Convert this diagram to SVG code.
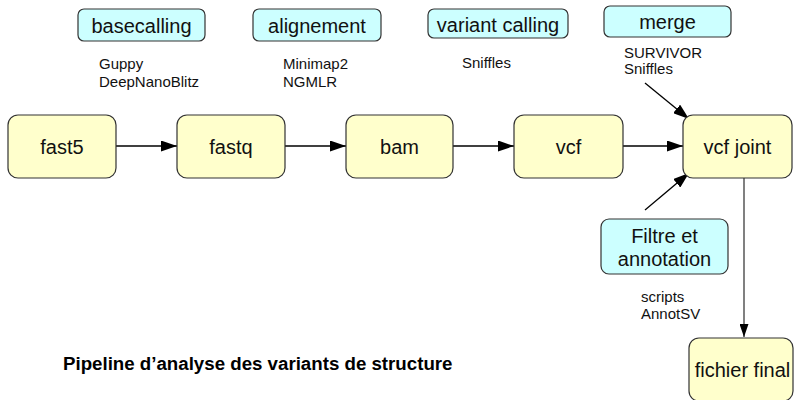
<svg xmlns="http://www.w3.org/2000/svg" width="794" height="400" viewBox="0 0 794 400">
<defs>
<style>
.node{fill:#ffffcc;stroke:#333;stroke-width:1.2}
.tool{fill:#ccffff;stroke:#333;stroke-width:1.2}
.lbl{font-family:"Liberation Sans",Arial,sans-serif;font-size:20px;fill:#111;text-anchor:middle}
.sm{font-family:"Liberation Sans",Arial,sans-serif;font-size:15px;fill:#111}
.title{font-family:"Liberation Sans",Arial,sans-serif;font-size:18.7px;font-weight:bold;fill:#000}
.edge{stroke:#000;stroke-width:1.3;fill:none}
</style>
<marker id="ah" markerWidth="16" markerHeight="11" refX="16" refY="5.5" orient="auto" markerUnits="userSpaceOnUse">
<path d="M0,0 L16,5.5 L0,11 Z" fill="#000"/>
</marker>
<marker id="ah2" markerWidth="13" markerHeight="9" refX="13" refY="4.5" orient="auto" markerUnits="userSpaceOnUse">
<path d="M0,0 L13,4.5 L0,9 Z" fill="#000"/>
</marker>
</defs>
<rect width="794" height="400" fill="#fff"/>

<g id="connectors">
<line class="edge" x1="116" y1="146" x2="177" y2="146" marker-end="url(#ah)"/>
<line class="edge" x1="285" y1="146" x2="346" y2="146" marker-end="url(#ah)"/>
<line class="edge" x1="453" y1="146" x2="514" y2="146" marker-end="url(#ah)"/>
<line class="edge" x1="623" y1="146" x2="683" y2="146" marker-end="url(#ah)"/>
<line class="edge" x1="645" y1="83" x2="689" y2="119" marker-end="url(#ah)"/>
<line class="edge" x1="645" y1="210" x2="689" y2="173" marker-end="url(#ah)"/>
<line x1="744" y1="178" x2="744" y2="337" stroke="#808080" stroke-width="2" marker-end="url(#ah2)"/>
</g>

<g id="basecalling"><rect class="tool" x="78" y="9" width="127" height="32" rx="6"/><text class="lbl" x="141.5" y="32.5">basecalling</text></g>
<g id="alignement"><rect class="tool" x="253" y="9" width="128" height="32" rx="6"/><text class="lbl" x="317" y="32.5">alignement</text></g>
<g id="variant-calling"><rect class="tool" x="428" y="9" width="140" height="29" rx="6"/><text class="lbl" x="498" y="31.5">variant calling</text></g>
<g id="merge"><rect class="tool" x="604" y="6" width="127" height="31" rx="6"/><text class="lbl" x="667.5" y="29">merge</text></g>

<g id="basecalling-tools"><text class="sm" x="99" y="69">Guppy</text><text class="sm" x="99" y="87">DeepNanoBlitz</text></g>
<g id="alignement-tools"><text class="sm" x="283" y="69">Minimap2</text><text class="sm" x="283" y="87">NGMLR</text></g>
<g id="calling-tools"><text class="sm" x="462" y="68">Sniffles</text></g>
<g id="merge-tools"><text class="sm" x="624" y="57.5">SURVIVOR</text><text class="sm" x="624" y="74">Sniffles</text></g>

<g id="fast5"><rect class="node" x="8" y="115" width="108" height="63" rx="10"/><text class="lbl" x="62" y="153.5">fast5</text></g>
<g id="fastq"><rect class="node" x="177" y="115" width="108" height="63" rx="10"/><text class="lbl" x="231" y="153.5">fastq</text></g>
<g id="bam"><rect class="node" x="346" y="115" width="107" height="63" rx="10"/><text class="lbl" x="399.5" y="153.5">bam</text></g>
<g id="vcf"><rect class="node" x="514" y="115" width="109" height="63" rx="10"/><text class="lbl" x="568.5" y="153.5">vcf</text></g>
<g id="vcf-joint"><rect class="node" x="683" y="115" width="109" height="63" rx="10"/><text class="lbl" x="737.5" y="153.5">vcf joint</text></g>

<g id="filtre"><rect class="tool" x="601" y="219" width="127" height="55" rx="8"/><text class="lbl" x="664.5" y="243">Filtre et</text><text class="lbl" x="664.5" y="265.5">annotation</text></g>
<g id="filtre-tools"><text class="sm" x="641" y="302">scripts</text><text class="sm" x="641" y="319">AnnotSV</text></g>

<g id="fichier-final"><rect class="node" x="689" y="338" width="104" height="63" rx="10"/><text class="lbl" x="742.5" y="376.5">fichier final</text></g>

<g id="title"><text class="title" x="63" y="370">Pipeline d’analyse des variants de structure</text></g>
</svg>
